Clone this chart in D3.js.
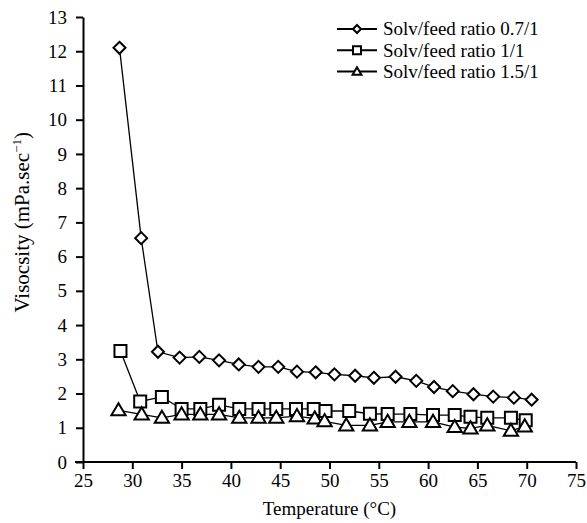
<!DOCTYPE html>
<html>
<head>
<meta charset="utf-8">
<script src="https://cdn.jsdelivr.net/npm/d3@7"></script>
<style>
  body { margin: 0; background: #fff; }
  svg text { font-family: "Liberation Serif", "Times New Roman", serif; fill: #000; }
</style>
</head>
<body>
<div id="chart"></div>
<script>
// values
const seriesNames = ["Solv/feed ratio 0.7/1", "Solv/feed ratio 1/1", "Solv/feed ratio 1.5/1"];
const markerTypes = ["diamond", "square", "triangle"];

const tempA = [28.7, 30.9, 32.6, 34.8, 36.8, 38.8, 40.8, 42.8, 44.8, 46.7, 48.6, 50.5, 52.6, 54.5, 56.7, 58.8, 60.6, 62.5, 64.6, 66.6, 68.7, 70.5];
const viscA = [12.1, 6.54, 3.22, 3.05, 3.07, 2.97, 2.85, 2.78, 2.78, 2.64, 2.62, 2.56, 2.52, 2.46, 2.49, 2.37, 2.19, 2.07, 1.98, 1.91, 1.88, 1.82];

const tempB = [28.8, 30.8, 33.0, 35.0, 36.9, 38.8, 40.85, 42.8, 44.6, 46.6, 48.4, 49.6, 52.0, 54.1, 55.9, 58.2, 60.5, 62.7, 64.3, 66.0, 68.4, 69.9];
const viscB = [3.24, 1.77, 1.90, 1.55, 1.55, 1.67, 1.55, 1.55, 1.55, 1.55, 1.55, 1.49, 1.49, 1.41, 1.40, 1.40, 1.37, 1.37, 1.32, 1.29, 1.29, 1.22];

const tempC = [28.6, 30.95, 33.0, 35.0, 36.9, 38.8, 40.85, 42.8, 44.6, 46.7, 48.5, 49.5, 51.7, 54.1, 55.9, 58.1, 60.5, 62.7, 64.3, 66.0, 68.4, 69.8];
const viscC = [1.51, 1.39, 1.29, 1.39, 1.39, 1.39, 1.29, 1.29, 1.29, 1.34, 1.27, 1.19, 1.07, 1.07, 1.17, 1.17, 1.17, 1.02, 0.98, 1.07, 0.91, 1.04];

const xTicks = [25, 30, 35, 40, 45, 50, 55, 60, 65, 70, 75];
const yTicks = [0, 1, 2, 3, 4, 5, 6, 7, 8, 9, 10, 11, 12, 13];

const width = 587, height = 523;
const margin = { left: 83, right: 11, top: 17, bottom: 61 };
const fontFamily = '"Liberation Serif", "Times New Roman", serif';

const series = [
  { name: seriesNames[0], marker: markerTypes[0], pts: tempA.map((t, i) => [t, viscA[i]]) },
  { name: seriesNames[1], marker: markerTypes[1], pts: tempB.map((t, i) => [t, viscB[i]]) },
  { name: seriesNames[2], marker: markerTypes[2], pts: tempC.map((t, i) => [t, viscC[i]]) }
];

const svg = d3.select("#chart").append("svg")
  .attr("width", width)
  .attr("height", height);

const x = d3.scaleLinear().domain([25, 75]).range([margin.left, width - margin.right]);
const y = d3.scaleLinear().domain([0, 13]).range([height - margin.bottom, margin.top]);

// axes
const xAxis = svg.append("g")
  .attr("transform", `translate(0,${y(0)})`)
  .call(d3.axisBottom(x).tickValues(xTicks).tickSize(7).tickSizeOuter(0).tickPadding(5));
const yAxis = svg.append("g")
  .attr("transform", `translate(${x(25)},0)`)
  .call(d3.axisLeft(y).tickValues(yTicks).tickSize(7).tickSizeOuter(0).tickPadding(9));

[xAxis, yAxis].forEach(a => {
  a.attr("font-family", fontFamily).attr("font-size", 19);
  a.select(".domain").attr("stroke", "#000").attr("stroke-width", 2);
  a.selectAll(".tick line").attr("stroke", "#000").attr("stroke-width", 2);
  a.selectAll(".tick text").attr("fill", "#000");
});
// x axis line pokes a little left of the y axis
xAxis.select(".domain").attr("d", `M${x(25) - 8},0H${x(75)}`);

// axis titles
svg.append("text")
  .attr("x", (x(25) + x(75)) / 2)
  .attr("y", 515)
  .attr("text-anchor", "middle")
  .style("font-size", "19px")
  .text("Temperature (°C)");

const yLabel = svg.append("text")
  .attr("transform", "translate(29,132) rotate(-90)")
  .attr("text-anchor", "end")
  .style("font-size", "21px");
yLabel.append("tspan").text("Visocsity (mPa.sec");
yLabel.append("tspan").attr("dy", -8).style("font-size", "13px").text("−1");
yLabel.append("tspan").attr("dy", 8).text(")");

// marker shapes
function markerPath(type, s) {
  if (type === "diamond") return `M0,${-s}L${s},0L0,${s}L${-s},0Z`;
  if (type === "square") return `M${-s},${-s}H${s}V${s}H${-s}Z`;
  const h = s * 1.1;
  return `M0,${-h}L${s * 1.1},${h * 0.7}H${-s * 1.1}Z`;
}
const markerSize = { diamond: 6, square: 6, triangle: 6.5 };

const line = d3.line().x(d => x(d[0])).y(d => y(d[1]));

const plot = svg.append("g").attr("class", "plot");
series.forEach(s => {
  plot.append("path")
    .datum(s.pts)
    .attr("d", line)
    .attr("fill", "none")
    .attr("stroke", "#000")
    .attr("stroke-width", 1.3);
});
series.forEach(s => {
  plot.selectAll(null)
    .data(s.pts)
    .join("path")
    .attr("transform", d => `translate(${x(d[0])},${y(d[1])})`)
    .attr("d", markerPath(s.marker, markerSize[s.marker]))
    .attr("fill", "#fff")
    .attr("stroke", "#000")
    .attr("stroke-width", 2);
});

// legend
const legend = svg.append("g").attr("transform", "translate(337,29)");
const rows = legend.selectAll("g")
  .data(series)
  .join("g")
  .attr("transform", (d, i) => `translate(0,${i * 21.3})`);
rows.append("line")
  .attr("x1", 0).attr("x2", 40)
  .attr("stroke", "#000").attr("stroke-width", 2);
rows.append("path")
  .attr("transform", "translate(20,0)")
  .attr("d", d => markerPath(d.marker, 4))
  .attr("fill", "#fff")
  .attr("stroke", "#000")
  .attr("stroke-width", 2);
rows.append("text")
  .attr("x", 46)
  .attr("dy", "0.33em")
  .style("font-size", "19px")
  .text(d => d.name);
</script>
</body>
</html>
